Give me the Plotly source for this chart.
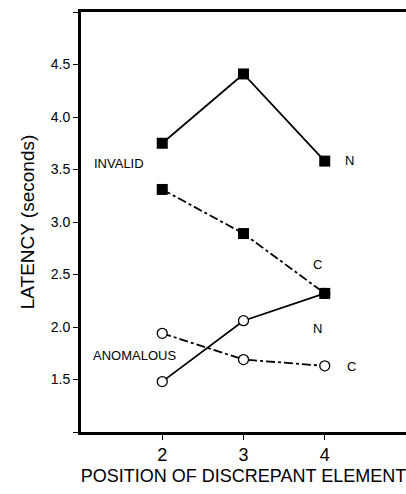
import plotly.graph_objects as go

positions = [2, 3, 4]
invalid_n = [3.75, 4.41, 3.58]
invalid_c = [3.31, 2.89, 2.32]
anomalous_n = [1.48, 2.06, 2.32]
anomalous_c = [1.94, 1.69, 1.63]

y_ticks = [1.0, 1.5, 2.0, 2.5, 3.0, 3.5, 4.0, 4.5, 5.0]
y_tick_labels = ["", "1.5", "2.0", "2.5", "3.0", "3.5", "4.0", "4.5", ""]
x_ticks = [2, 3, 4]

labels = [
    ("INVALID", 1.47, 3.56),
    ("N", 4.30, 3.59),
    ("C", 3.91, 2.60),
    ("N", 3.91, 1.99),
    ("ANOMALOUS", 1.66, 1.73),
    ("C", 4.33, 1.62),
]

FONT = "Liberation Sans"

fig = go.Figure()
fig.add_trace(go.Scatter(
    x=positions, y=anomalous_n, mode="lines+markers",
    line=dict(color="black", width=1.8, dash="solid"),
    marker=dict(symbol="circle", size=10, color="white", line=dict(color="black", width=1.3)),
))
fig.add_trace(go.Scatter(
    x=positions, y=anomalous_c, mode="lines+markers",
    line=dict(color="black", width=1.8, dash="dashdot"),
    marker=dict(symbol="circle", size=10, color="white", line=dict(color="black", width=1.3)),
))
fig.add_trace(go.Scatter(
    x=positions, y=invalid_n, mode="lines+markers",
    line=dict(color="black", width=1.8, dash="solid"),
    marker=dict(symbol="square", size=11, color="black"),
))
fig.add_trace(go.Scatter(
    x=positions, y=invalid_c, mode="lines+markers",
    line=dict(color="black", width=1.8, dash="dashdot"),
    marker=dict(symbol="square", size=11, color="black"),
))

for text, x, y in labels:
    fig.add_annotation(x=x, y=y, text=text, showarrow=False,
                       xanchor="center", yanchor="middle",
                       font=dict(family=FONT, size=13, color="black"))

fig.update_layout(
    width=406, height=494,
    margin=dict(l=81, r=0, t=12, b=62),
    paper_bgcolor="white", plot_bgcolor="white",
    showlegend=False,
    font=dict(family=FONT, color="black"),
    xaxis=dict(
        range=[1, 5], tickvals=x_ticks, ticktext=[str(v) for v in x_ticks],
        showline=True, linecolor="black", linewidth=2.5, mirror=True,
        ticks="outside", ticklen=5, tickwidth=1, tickcolor="black",
        showgrid=False, zeroline=False,
        tickfont=dict(family=FONT, size=18),
        title=dict(text="POSITION OF DISCREPANT ELEMENT", font=dict(family=FONT, size=18), standoff=6),
    ),
    yaxis=dict(
        range=[1, 5], tickvals=y_ticks, ticktext=y_tick_labels,
        showline=True, linecolor="black", linewidth=3,
        ticks="outside", ticklen=5, tickwidth=1, tickcolor="black",
        showgrid=False, zeroline=False,
        tickfont=dict(family=FONT, size=14),
        title=dict(text="LATENCY (seconds)", font=dict(family=FONT, size=19), standoff=12),
    ),
)

fig.write_html(
    "out.html",
    config={"displayModeBar": False},
    post_script="document.body.style.margin='0';document.body.style.overflow='hidden';",
)
